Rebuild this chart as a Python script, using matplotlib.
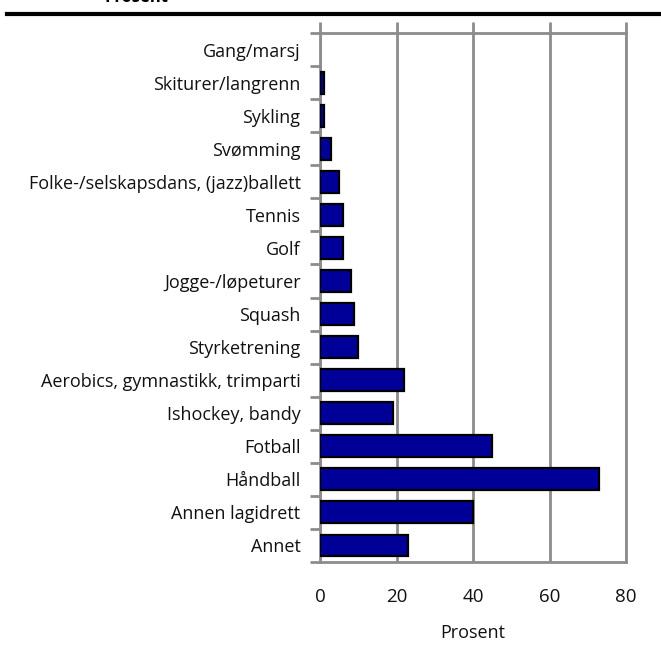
import matplotlib.pyplot as plt
from matplotlib.lines import Line2D

plt.rcParams['font.family'] = ['Open Sans', 'DejaVu Sans']

# activities listed top to bottom, share in percent
activities = [
    'Gang/marsj', 'Skiturer/langrenn', 'Sykling', 'Svømming',
    'Folke-/selskapsdans, (jazz)ballett', 'Tennis', 'Golf',
    'Jogge-/løpeturer', 'Squash', 'Styrketrening',
    'Aerobics, gymnastikk, trimparti', 'Ishockey, bandy', 'Fotball',
    'Håndball', 'Annen lagidrett', 'Annet',
]
percent = [0, 1, 1, 3, 5, 6, 6, 8, 9, 10, 22, 19, 45, 73, 40, 23]
x_ticks = [0, 20, 40, 60, 80]

grey = '#8c8c8c'
text_col = '#111111'

fig = plt.figure(figsize=(6.61, 6.52), dpi=100)
ax = fig.add_axes([320 / 661, 1 - 562 / 652, 306 / 661, 529 / 652])

pos = list(range(len(activities)))
edges = ['black' if v > 0 else 'none' for v in percent]
ax.barh(pos, percent, height=0.66, color='#000099', edgecolor=edges,
        linewidth=1.6, zorder=3)

ax.set_ylim(len(activities) - 0.5, -0.5)
ax.set_xlim(0, 80)

ax.set_yticks(pos)
ax.set_yticklabels(activities, fontsize=13, color=text_col)
ax.set_yticks([p - 0.5 for p in range(len(activities) + 1)], minor=True)
ax.tick_params(axis='y', which='major', length=0, pad=14)
ax.tick_params(axis='y', which='minor', length=7, width=2, color=grey,
               direction='out')

ax.set_xticks(x_ticks)
ax.tick_params(axis='x', top=True, bottom=False, labeltop=False,
               labelbottom=True, length=8, width=2, color=grey,
               direction='out', labelsize=13.5, pad=11, labelcolor=text_col)
ax.set_xlabel('Prosent', fontsize=13, labelpad=13, color=text_col)

ax.grid(axis='x', color=grey, linewidth=2, zorder=0)
for side in ax.spines.values():
    side.set_color(grey)
    side.set_linewidth(2)

# heading rule and heading text at the top of the page
fig.add_artist(Line2D([7 / 661, 1], [1 - 14 / 652, 1 - 14 / 652],
                      color='black', linewidth=3))
fig.text(105 / 661, 1 - 2.5 / 652, 'Prosent', fontsize=12, fontweight='bold',
         va='baseline', ha='left')

fig.savefig('out.png', dpi=100)
